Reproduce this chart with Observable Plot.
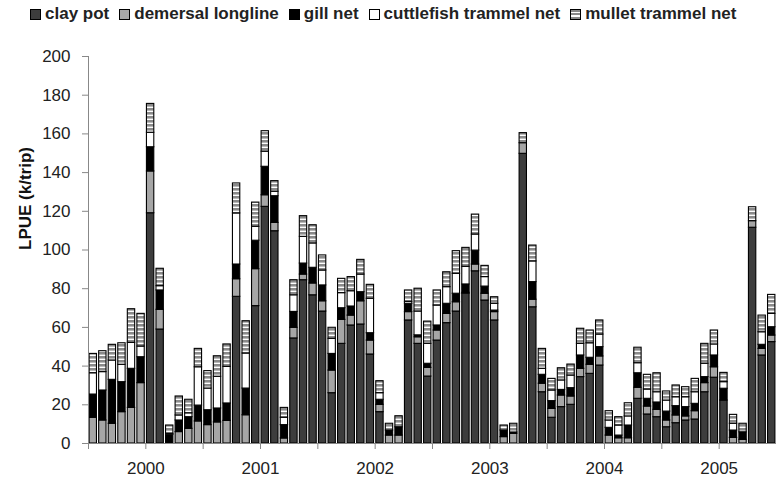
<!DOCTYPE html>
<html><head><meta charset="utf-8">
<script src="https://cdn.jsdelivr.net/npm/d3@7"></script>
<script src="https://cdn.jsdelivr.net/npm/@observablehq/plot@0.6"></script>
<style>
body{margin:0;background:#fff;font-family:"Liberation Sans",Arial,sans-serif;}
#legend{height:28px;display:flex;align-items:center;padding-left:30px;font-size:17px;font-weight:bold;color:#222;white-space:nowrap}
.item{display:flex;align-items:center;margin-right:10px}
.sw{width:11px;height:11px;border:1px solid #000;margin-right:4px;box-sizing:border-box}
</style></head><body>
<svg width="0" height="0" style="position:absolute">
  <defs>
    <pattern id="mulletPattern" patternUnits="userSpaceOnUse" width="4" height="4">
      <rect width="4" height="4" fill="#ffffff"></rect>
      <rect width="4" height="2.6" fill="#8a8a8a"></rect>
    </pattern>
  </defs>
</svg>
<div id="legend"></div>
<div id="chart"></div>
<script>
// series names
const gears = ["clay pot", "demersal longline", "gill net", "cuttlefish trammel net", "mullet trammel net"];
// monthly LPUE values (k/trip), 72 months
const clayPot = [
  0,0,0,0,0,0,119,58.9,0,0,0,0,
  0,0,0,75.8,0,71,122.3,109.7,0,54.3,84.4,76.6,
  68.2,26,51.5,61,61.5,46,16.2,0,0,63.6,51.5,34.6,
  53.2,62.2,68.2,77.4,89,73.9,63.6,0,0,149.7,70.4,26.5,
  13.3,18.8,20,34.3,36,40.3,0,0,0,23.1,15,13.6,
  8.4,10.5,11.9,12.4,26.5,34,22.2,0,0,111.5,45.5,52.4
];
const demersalLongline = [
  13.3,11.9,10.2,16.2,18.4,31.2,21.6,10.2,0,5.9,7.6,11.4,
  9.5,10.9,11.7,9.1,14.6,19.1,6,4.3,2.6,5.5,2.9,6.1,
  5.3,11.7,12.4,5.1,12,7.2,3.8,4.1,4.1,4.3,3.4,4.5,
  5.2,4.8,4.8,0.5,3.5,3.5,4.3,3.3,5,5.5,3.9,4.4,
  4.6,6,4.3,4.3,4.7,4.7,4.1,2.7,2.7,5.7,4.1,3.8,
  3.5,4,2.1,4.3,4.7,5.4,0,2.9,1.9,3.4,3.4,3.4
];
const gillNet = [
  12,15.5,22.7,15.5,20.2,13.4,12.5,10,4.5,6,6,8.2,
  7.7,7.2,9,7.6,13.8,14.7,14.7,13.8,6.9,8.2,5.7,8.1,
  8.2,8.6,6,4.7,4.7,3.8,2.6,2.6,4.3,4.3,1,2.1,
  2.6,5.2,4.4,4.3,7.2,3.7,0.8,3.4,0.7,0,9.1,4.6,
  4,2.9,4.3,6.9,3.6,4.8,4,1.4,6.6,7.5,4,3.8,
  4.6,4.8,4.8,3.8,3.1,6.1,6.1,3.8,3.9,0,2.1,4.3
];
const cuttlefishTrammel = [
  11,9.5,10,9,13.4,5.5,7.5,2.2,0.5,2.6,2,19.8,
  11.2,16.4,18.9,26.4,18.1,7.2,7.8,2.3,3.8,8.6,13.8,12.6,
  7.7,7.8,7.8,7.9,9.1,17.8,3.4,0,0,1,12.3,10.3,
  10.3,8.6,10.3,9.1,8.3,4.9,3.5,0,0,0,10.7,3.1,
  5.5,4.9,6.5,6,7.5,6.5,3.8,5.2,4.7,5.2,4.8,5.3,
  5.7,4.6,5.1,6,6.9,5.7,3.4,3.5,0,0,6.5,6.9
];
const mulletTrammel = [
  10,10.8,8.1,11.1,17.4,16.9,14.9,9,4.3,9.8,7,9.5,
  9,10.6,11.6,15.5,16.7,12.5,10.6,5.5,5.1,7.8,10.7,9.4,
  7.8,5.7,7.4,7.3,7.6,7.2,6.2,3.5,5.7,5.9,11.8,11.5,
  7.8,7.7,11.7,9.8,10.3,5.8,3.4,2.6,4.5,5.2,8.2,10.3,
  6,6.3,5.7,7.8,6.6,7.3,4.8,4.3,6.8,8,7.6,9.8,
  4.7,6.1,5.2,6.9,10.3,7.2,4.8,4.6,4.4,7.2,8.6,9.8
];
// year tick labels, placed at month index
const yearLabels = ["2000", "2001", "2002", "2003", "2004", "2005"];
const yearIndex = [6, 18, 30, 42, 54, 66];
const yTicks = [0, 20, 40, 60, 80, 100, 120, 140, 160, 180, 200];

const fills = ["#3d3d3d", "#a6a6a6", "#000000", "#ffffff", "url(#mulletPattern)"];
const series = [clayPot, demersalLongline, gillNet, cuttlefishTrammel, mulletTrammel];
const nMonths = clayPot.length;
const rows = [];
for (let i = 0; i < nMonths; i++) {
  series.forEach((s, k) => rows.push({i, gear: gears[k], v: s[i]}));
}
const xTicks = d3.range(0, 67, 6);
const labelAt = new Map(yearIndex.map((x, j) => [x, yearLabels[j]]));

// legend
const legend = document.getElementById("legend");
gears.forEach((g, k) => {
  const it = document.createElement("div"); it.className = "item";
  const sw = document.createElement("div"); sw.className = "sw";
  if (k === 4) sw.style.background = "repeating-linear-gradient(#8a8a8a 0 2px, #ffffff 2px 3.5px)";
  else sw.style.background = fills[k];
  const tx = document.createElement("span"); tx.textContent = g;
  it.append(sw, tx); legend.append(it);
});

const chart = Plot.plot({
  width: 776, height: 452,
  marginLeft: 88, marginRight: 0, marginTop: 28, marginBottom: 37,
  x: {domain: [0, nMonths], axis: null, label: null},
  y: {domain: [0, 200], axis: null, label: null},
  color: {domain: gears, range: fills},
  style: {fontFamily: "Liberation Sans, Arial, sans-serif", fontSize: "17px", background: "#fff", color: "#222"},
  marks: [
    Plot.rectY(rows, Plot.stackY({x1: "i", x2: d => d.i + 1, y: "v", fill: "gear", stroke: "#000", strokeWidth: 1.1, insetLeft: 1.1, insetRight: 1.1})),
    Plot.axisY({ticks: yTicks, tickSize: 6, tickPadding: 12, stroke: "#888", fill: "#222", fontSize: 17, label: null}),
    Plot.axisX({ticks: xTicks, tickSize: 6, tickPadding: 12, stroke: "#888", fill: "#222", fontSize: 17, label: null, tickFormat: d => labelAt.get(d) ?? ""}),
    Plot.ruleX([0], {stroke: "#888"}),
    Plot.ruleY([0], {stroke: "#888"}),
    Plot.text(["LPUE (k/trip)"], {frameAnchor: "left", rotate: -90, dx: -63, fontWeight: "bold", fontSize: 17, fill: "#111"})
  ]
});
document.getElementById("chart").append(chart);
</script>
</body></html>
